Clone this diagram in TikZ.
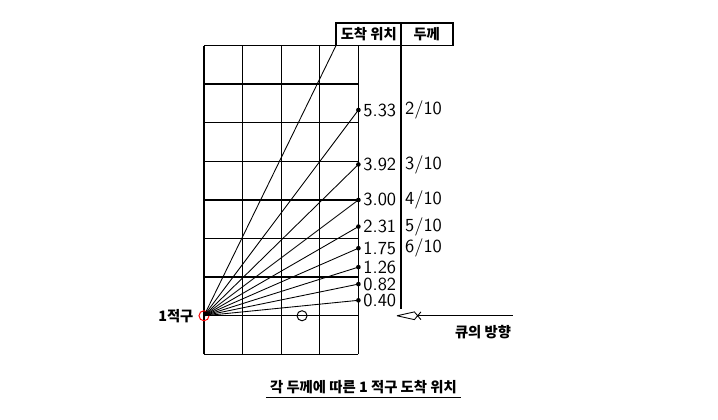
\documentclass[tikz,border=0pt]{standalone}
\usepackage{fontspec}
\newfontfamily\kr{Noto Sans CJK KR}
\usetikzlibrary{positioning}

\begin{document}
\begin{tikzpicture}[x=0.7cm,y=0.7cm,
    dot/.style={circle,fill,inner sep=0pt,minimum size=2.4pt},
    val/.style={right,inner sep=1pt,font=\fontsize{9.5}{11}\sffamily},
    thk/.style={right,inner sep=1pt,font=\fontsize{9.5}{11}\sffamily},
    kor/.style={inner sep=1pt,font=\fontsize{7.4}{8.5}\kr\bfseries},
    fan/.style={line width=0.45pt}]
  \useasboundingbox (-5.285,-2.70) rectangle (13.316,8.18);
  % table
  \draw[line width=0.7pt,step=1] (0,-1) grid (4,7);
  \draw[line width=0.7pt] (3.42,7) rectangle (6.45,7.58);
  \draw[line width=0.7pt] (5.1,7.58) -- (5.1,0.18);
  \coordinate (hdr) at (3.42,7);
  \node[kor] (pos) at (4.27,7.29) {도착 위치};
  \node[kor] (thick) at (5.77,7.29) {두께};

  % balls
  \node[circle,draw=red,line width=0.5pt,inner sep=0pt,minimum size=5.2pt] (ball) at (0,0) {};
  \node[kor,left=0.05cm of ball] (balltxt) {1적구};
  \node[circle,draw,line width=0.5pt,inner sep=0pt,minimum size=5.2pt] (cue) at (2.54,0) {};

  % arrival points
  \node[dot] (p1) at (4,5.33) {};
  \node[dot] (p2) at (4,3.92) {};
  \node[dot] (p3) at (4,3.00) {};
  \node[dot] (p4) at (4,2.31) {};
  \node[dot] (p5) at (4,1.75) {};
  \node[dot] (p6) at (4,1.26) {};
  \node[dot] (p7) at (4,0.82) {};
  \node[dot] (p8) at (4,0.40) {};
  \node[val] at (p1.east) {5.33};
  \node[val] at (p2.east) {3.92};
  \node[val] at (p3.east) {3.00};
  \node[val] at (p4.east) {2.31};
  \node[val] at (p5.east) {1.75};
  \node[val] at (p6.east) {1.26};
  \node[val] at (p7.east) {0.82};
  \node[val] at (p8.east) {0.40};
  \node[thk] at (5.15,5.33) {2/10};
  \node[thk] at (5.15,3.92) {3/10};
  \node[thk] at (5.15,3.00) {4/10};
  \node[thk] at (5.15,2.31) {5/10};
  \node[thk] at (5.15,1.75) {6/10};

  \draw[fan] (ball.center) -- (hdr);
  \draw[fan] (ball.center) -- (p1.center);
  \draw[fan] (ball.center) -- (p2.center);
  \draw[fan] (ball.center) -- (p3.center);
  \draw[fan] (ball.center) -- (p4.center);
  \draw[fan] (ball.center) -- (p5.center);
  \draw[fan] (ball.center) -- (p6.center);
  \draw[fan] (ball.center) -- (p7.center);
  \draw[fan] (ball.center) -- (p8.center);

  % cue direction
  \coordinate (tip) at (5.0,0);
  \coordinate (tail) at (8.0,0);
  \draw[line width=0.5pt] (tip) ++(0.55,0) -- (tail);
  \draw[line width=0.45pt] (tip) -- ++(0.45,0.1) -- ++(0.17,-0.2)
                           (tip) -- ++(0.45,-0.1) -- ++(0.17,0.2);
  \node[kor] (cuetxt) at (7.23,-0.42) {큐의 방향};

  % caption
  \node[kor,inner sep=2pt] (cap) at (4.13,-1.84) {각 두께에 따른 1 적구 도착 위치};
  \draw[line width=0.7pt] (cap.south west) -- (cap.south east);
\end{tikzpicture}
\end{document}
